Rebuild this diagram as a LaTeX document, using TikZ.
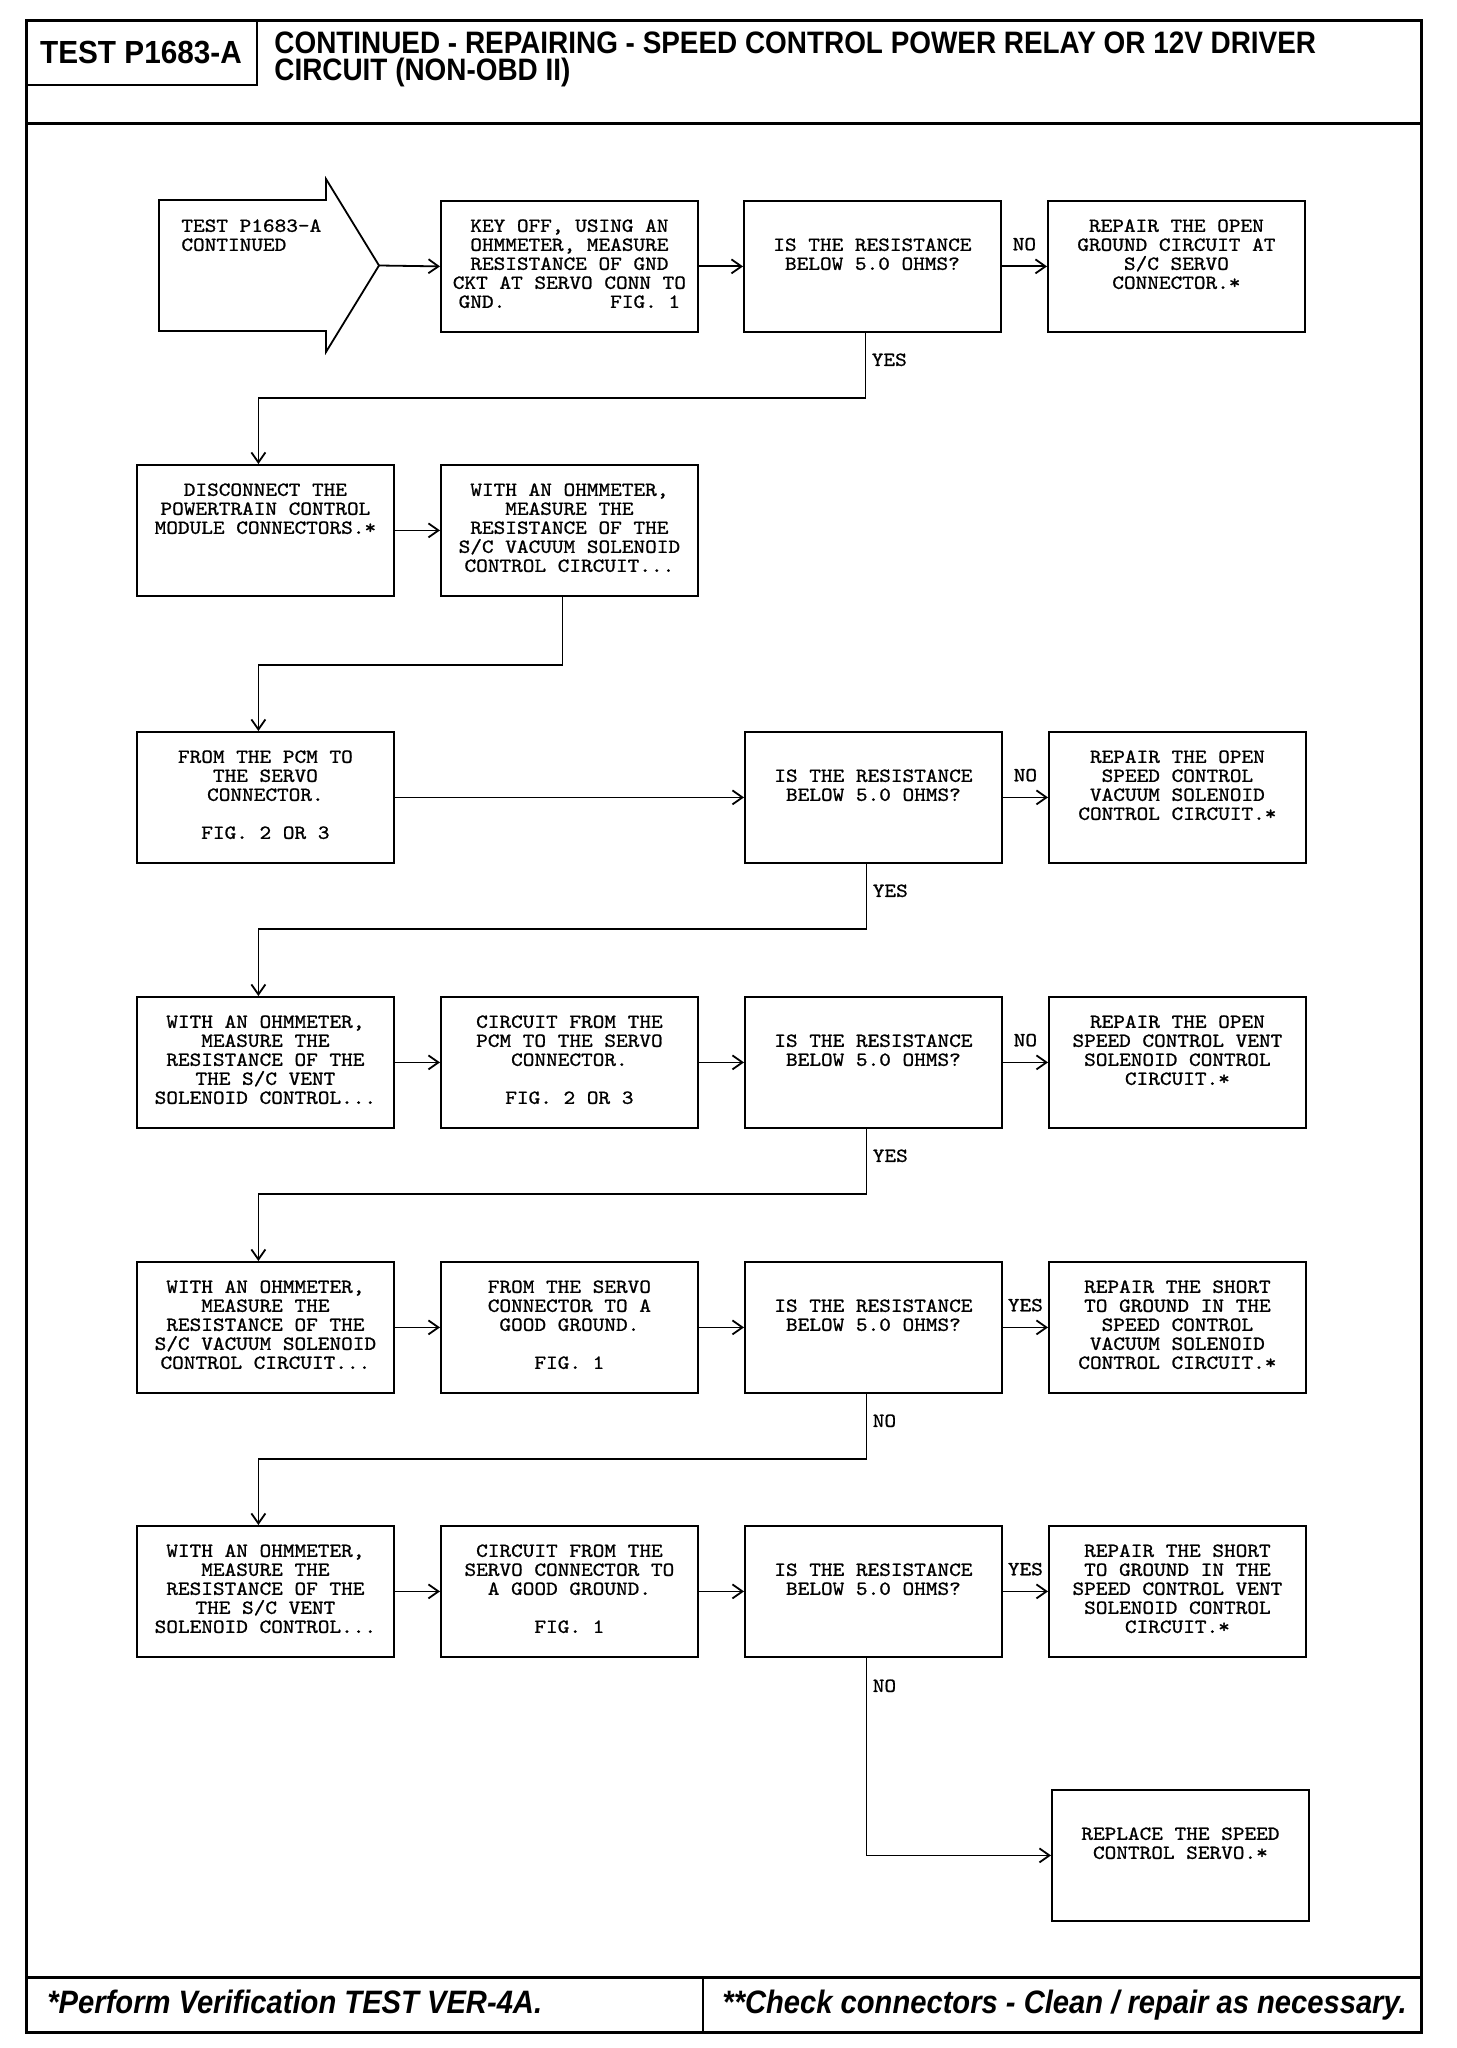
\documentclass[tikz,border=0pt]{standalone}
\usepackage{fontspec}
\setmonofont[FakeStretch=1.11,FakeBold=1]{Latin Modern Mono}
\newfontfamily\hdrfont[FakeStretch=0.9]{Liberation Sans}
\newfontfamily\testfont[FakeStretch=0.93]{Liberation Sans}
\usetikzlibrary{arrows.meta,calc}
\begin{document}
\begin{tikzpicture}[x=0.5pt,y=-0.5pt,
  bx/.style={draw,line width=0.9pt,minimum width=128.5pt,minimum height=65.5pt,anchor=north west,inner sep=0pt},
  txt/.style={font=\ttfamily\fontsize{10}{9.5}\selectfont,align=center,anchor=north,inner sep=0pt},
  lab/.style={font=\ttfamily\fontsize{10}{9.5}\selectfont,inner sep=0pt},
  hdr/.style={font=\hdrfont\bfseries\fontsize{15.5}{13.6}\selectfont,inner sep=0pt},
  ftr/.style={font=\hdrfont\bfseries\itshape\fontsize{16.2}{13}\selectfont,inner sep=0pt},
  arr/.style={line width=0.9pt,-{Straight Barb[length=5pt,width=7pt]}},
  ln/.style={line width=0.9pt},
  thick frame/.style={line width=1.5pt}]
\fill[white] (0,0) rectangle (1456,2048);
\useasboundingbox (0,0) rectangle (1456,2048);
% frame, header and footer
\draw[thick frame] (26,21) rectangle (1421,2032);
\draw[thick frame] (26,124) -- (1421,124);
\draw[line width=1.2pt] (26,85) -- (257,85) -- (257,21);
\node[font=\testfont\bfseries\fontsize{16}{13}\selectfont,inner sep=0pt] (testlbl) at (141,53) {TEST P1683-A};
\node[hdr,align=left,anchor=north west] (title) at (274,31) {CONTINUED - REPAIRING - SPEED CONTROL POWER RELAY OR 12V DRIVER\\CIRCUIT (NON-OBD II)};
\draw[thick frame] (26,1977) -- (1421,1977);
\draw[line width=1.2pt] (703,1977) -- (703,2032);
\node[ftr,anchor=base west] (foot1) at (47,2013) {*Perform Verification TEST VER-4A.};
\node[ftr,anchor=base west] (foot2) at (722,2013) {**Check connectors - Clean / repair as necessary.};

% row 1
\draw[ln] (159,200) -- (326,200) -- (326,179) -- (379,265.5) -- (326,352) -- (326,331) -- (159,331) -- cycle;
\coordinate (tip) at (379,265.5);
\node[txt,align=left,anchor=north west] (startt) at (181,219) {TEST P1683-A\\CONTINUED};
\node[bx] (b12) at (440,200) {};
\node[txt] (b12t) at ($(b12.north)+(0,19)$) {KEY OFF, USING AN\\OHMMETER, MEASURE\\RESISTANCE OF GND\\CKT AT SERVO CONN TO\\GND.\ \ \ \ \ \ \ \ \ FIG. 1};
\node[bx] (d1) at (743,200) {};
\node[txt] (d1t) at ($(d1.north)+(0,38)$) {IS THE RESISTANCE\\BELOW 5.0 OHMS?};
\node[bx] (r1) at (1047,200) {};
\node[txt] (r1t) at ($(r1.north)+(0,19)$) {REPAIR THE OPEN\\GROUND CIRCUIT AT\\S/C SERVO\\CONNECTOR.*};

% row 2
\node[bx] (b21) at (136,464) {};
\node[txt] (b21t) at ($(b21.north)+(0,19)$) {DISCONNECT THE\\POWERTRAIN CONTROL\\MODULE CONNECTORS.*};
\node[bx] (b22) at (440,464) {};
\node[txt] (b22t) at ($(b22.north)+(0,19)$) {WITH AN OHMMETER,\\MEASURE THE\\RESISTANCE OF THE\\S/C VACUUM SOLENOID\\CONTROL CIRCUIT...};

% row 3
\node[bx] (b31) at (136,731) {};
\node[txt] (b31t) at ($(b31.north)+(0,19)$) {FROM THE PCM TO\\THE SERVO\\CONNECTOR.\\\mbox{}\\FIG. 2 OR 3};
\node[bx] (d3) at (744,731) {};
\node[txt] (d3t) at ($(d3.north)+(0,38)$) {IS THE RESISTANCE\\BELOW 5.0 OHMS?};
\node[bx] (r3) at (1048,731) {};
\node[txt] (r3t) at ($(r3.north)+(0,19)$) {REPAIR THE OPEN\\SPEED CONTROL\\VACUUM SOLENOID\\CONTROL CIRCUIT.*};

% row 4
\node[bx] (b41) at (136,996) {};
\node[txt] (b41t) at ($(b41.north)+(0,19)$) {WITH AN OHMMETER,\\MEASURE THE\\RESISTANCE OF THE\\THE S/C VENT\\SOLENOID CONTROL...};
\node[bx] (b42) at (440,996) {};
\node[txt] (b42t) at ($(b42.north)+(0,19)$) {CIRCUIT FROM THE\\PCM TO THE SERVO\\CONNECTOR.\\\mbox{}\\FIG. 2 OR 3};
\node[bx] (d4) at (744,996) {};
\node[txt] (d4t) at ($(d4.north)+(0,38)$) {IS THE RESISTANCE\\BELOW 5.0 OHMS?};
\node[bx] (r4) at (1048,996) {};
\node[txt] (r4t) at ($(r4.north)+(0,19)$) {REPAIR THE OPEN\\SPEED CONTROL VENT\\SOLENOID CONTROL\\CIRCUIT.*};

% row 5
\node[bx] (b51) at (136,1261) {};
\node[txt] (b51t) at ($(b51.north)+(0,19)$) {WITH AN OHMMETER,\\MEASURE THE\\RESISTANCE OF THE\\S/C VACUUM SOLENOID\\CONTROL CIRCUIT...};
\node[bx] (b52) at (440,1261) {};
\node[txt] (b52t) at ($(b52.north)+(0,19)$) {FROM THE SERVO\\CONNECTOR TO A\\GOOD GROUND.\\\mbox{}\\FIG. 1};
\node[bx] (d5) at (744,1261) {};
\node[txt] (d5t) at ($(d5.north)+(0,38)$) {IS THE RESISTANCE\\BELOW 5.0 OHMS?};
\node[bx] (r5) at (1048,1261) {};
\node[txt] (r5t) at ($(r5.north)+(0,19)$) {REPAIR THE SHORT\\TO GROUND IN THE\\SPEED CONTROL\\VACUUM SOLENOID\\CONTROL CIRCUIT.*};

% row 6
\node[bx] (b61) at (136,1525) {};
\node[txt] (b61t) at ($(b61.north)+(0,19)$) {WITH AN OHMMETER,\\MEASURE THE\\RESISTANCE OF THE\\THE S/C VENT\\SOLENOID CONTROL...};
\node[bx] (b62) at (440,1525) {};
\node[txt] (b62t) at ($(b62.north)+(0,19)$) {CIRCUIT FROM THE\\SERVO CONNECTOR TO\\A GOOD GROUND.\\\mbox{}\\FIG. 1};
\node[bx] (d6) at (744,1525) {};
\node[txt] (d6t) at ($(d6.north)+(0,38)$) {IS THE RESISTANCE\\BELOW 5.0 OHMS?};
\node[bx] (r6) at (1048,1525) {};
\node[txt] (r6t) at ($(r6.north)+(0,19)$) {REPAIR THE SHORT\\TO GROUND IN THE\\SPEED CONTROL VENT\\SOLENOID CONTROL\\CIRCUIT.*};

% final
\node[bx] (rep) at (1051,1789) {};
\node[txt] (rept) at ($(rep.north)+(0,38)$) {REPLACE THE SPEED\\CONTROL SERVO.*};

% connectors
\draw[arr] (tip) -- (b12.west);
\draw[arr] (b12.east) -- (d1.west);
\draw[arr] (d1.east) -- node[lab,above=7.5pt] (no1) {NO} (r1.west);
\draw[arr] ($(d1.south)+(-7,0)$) -- ++(0,65) -| ($(b21.north)+(-7,0)$);
\node[lab,anchor=west] (yes1) at ($(d1.south)+(-1,27)$) {YES};

\draw[arr] (b21.east) -- (b22.west);
\draw[arr] ($(b22.south)+(-7,0)$) -- ++(0,68) -| ($(b31.north)+(-7,0)$);

\draw[arr] (b31.east) -- (d3.west);
\draw[arr] (d3.east) -- node[lab,above=7.5pt] (no3) {NO} (r3.west);
\draw[arr] ($(d3.south)+(-7,0)$) -- ++(0,65) -| ($(b41.north)+(-7,0)$);
\node[lab,anchor=west] (yes3) at ($(d3.south)+(-1,27)$) {YES};

\draw[arr] (b41.east) -- (b42.west);
\draw[arr] (b42.east) -- (d4.west);
\draw[arr] (d4.east) -- node[lab,above=7.5pt] (no4) {NO} (r4.west);
\draw[arr] ($(d4.south)+(-7,0)$) -- ++(0,65) -| ($(b51.north)+(-7,0)$);
\node[lab,anchor=west] (yes4) at ($(d4.south)+(-1,27)$) {YES};

\draw[arr] (b51.east) -- (b52.west);
\draw[arr] (b52.east) -- (d5.west);
\draw[arr] (d5.east) -- node[lab,above=7.5pt] (yes5) {YES} (r5.west);
\draw[arr] ($(d5.south)+(-7,0)$) -- ++(0,65) -| ($(b61.north)+(-7,0)$);
\node[lab,anchor=west] (no5) at ($(d5.south)+(-1,27)$) {NO};

\draw[arr] (b61.east) -- (b62.west);
\draw[arr] (b62.east) -- (d6.west);
\draw[arr] (d6.east) -- node[lab,above=7.5pt] (yes6) {YES} (r6.west);
\draw[arr] ($(d6.south)+(-7,0)$) |- (rep.west);
\node[lab,anchor=west] (no6) at ($(d6.south)+(-1,28)$) {NO};
\end{tikzpicture}
\end{document}
